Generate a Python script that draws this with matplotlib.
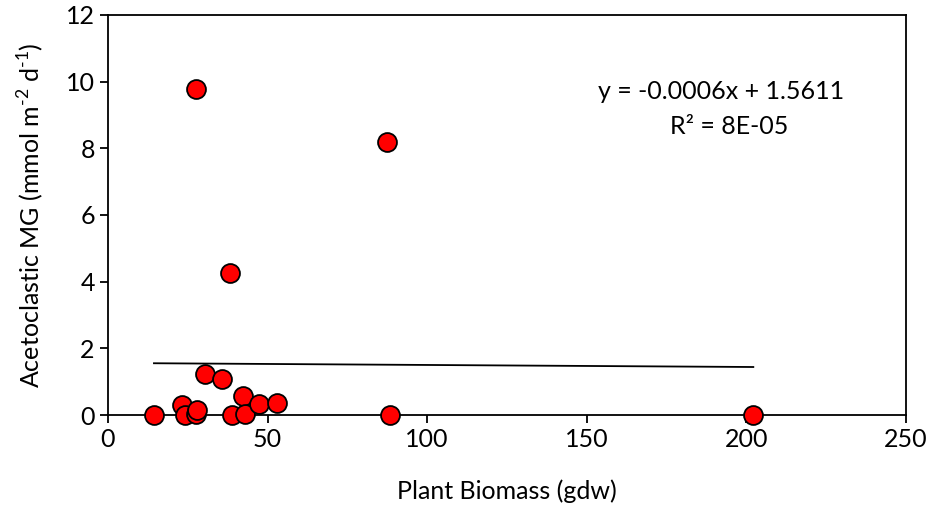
import matplotlib.pyplot as plt
import numpy as np

plt.rcParams["font.family"] = ["Lato", "DejaVu Sans"]
plt.rcParams["mathtext.fontset"] = "custom"
plt.rcParams["mathtext.rm"] = "Lato"

# plant biomass (gdw) vs acetoclastic MG (mmol m-2 d-1)
biomass = [14.4, 23.3, 24.1, 27.7, 28.0, 30.3, 35.8, 39.0, 42.3, 43.0,
           47.3, 53.0, 27.5, 87.5, 38.1, 88.4, 202.2]
acetoclastic = [0.0, 0.30, 0.0, 0.02, 0.15, 1.22, 1.09, 0.0, 0.57, 0.03,
                0.33, 0.37, 9.78, 8.19, 4.26, 0.0, 0.0]

slope = -0.0006
intercept = 1.5611
r2_label = "8E-05"


def main():
    fig = plt.figure(figsize=(9.31, 5.13), dpi=100)
    ax = fig.add_axes([0.116, 0.191, 0.857, 0.780])

    ax.scatter(biomass, acetoclastic, s=185, c="#ff0000",
               edgecolors="black", linewidths=1.3, zorder=3, clip_on=False)

    xs = np.array([min(biomass), max(biomass)])
    ax.plot(xs, slope * xs + intercept, color="black", lw=1.3, zorder=2)

    ax.text(192, 9.69, f"y = {slope:.4f}x + {intercept:.4f}", ha="center",
            va="center", fontsize=18)
    ax.text(194.5, 8.64, f"R² = {r2_label}", ha="center", va="center",
            fontsize=18)

    ax.set_xlim(0, 250)
    ax.set_ylim(0, 12)
    ax.set_xticks(range(0, 251, 50))
    ax.set_yticks(range(0, 13, 2))
    ax.tick_params(labelsize=18, length=6, width=1.3, direction="out")
    for sp in ax.spines.values():
        sp.set_linewidth(1.3)

    ax.set_xlabel("Plant Biomass (gdw)", fontsize=18, labelpad=20)
    ax.set_ylabel(r"Acetoclastic MG (mmol m$^{\text{-}2}$ d$^{\text{-}1}$)",
                  fontsize=18, labelpad=14)

    fig.savefig("out.png", dpi=100)


if __name__ == "__main__":
    main()
